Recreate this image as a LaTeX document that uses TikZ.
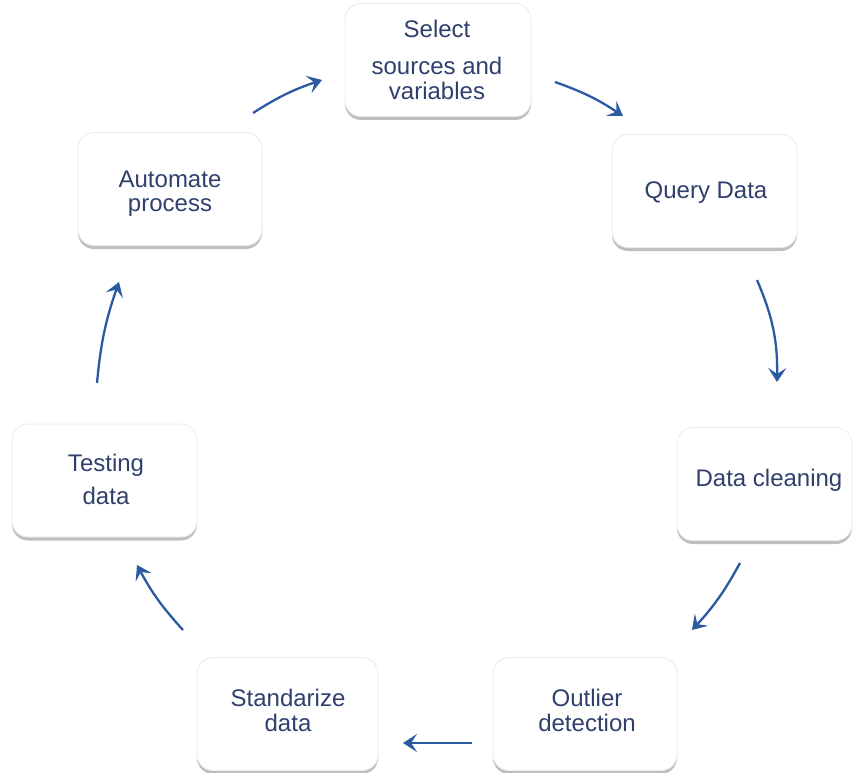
\documentclass[tikz,border=0pt]{standalone}
\usepackage{fontspec}
\setmainfont{Liberation Sans}
\usetikzlibrary{shadows,arrows.meta}
\definecolor{txtc}{RGB}{48,64,108}
\definecolor{arrc}{RGB}{42,90,162}
\tikzset{
  stepbox/.style={rectangle, rounded corners=16pt, fill=white, draw=black!8, line width=0.8pt,
    minimum width=#1, minimum height=113pt, inner sep=0pt,
    drop shadow={shadow xshift=0pt, shadow yshift=-3.5pt, opacity=0.5, fill=black!50}},
  stepbox/.default=185pt,
  lbl/.style={anchor=base, text=txtc, inner sep=0pt, font=\fontsize{24}{26}\selectfont},
  flow/.style={draw=arrc, line width=2.3pt, bend left=7,
    -{Stealth[length=14pt, width=18pt, inset=6pt]}}
}
\begin{document}
\begin{tikzpicture}[x=1pt,y=-1pt]
\useasboundingbox (0,0) rectangle (854,773);
% boxes
\node[stepbox=186pt] (sel) at (438,60) {};
\node[stepbox] (qry) at (704.5,191) {};
\node[stepbox=184pt] (aut) at (170,189) {};
\node[stepbox=175pt] (cln) at (764.5,484) {};
\node[stepbox] (tst) at (104.5,480.5) {};
\node[stepbox=184pt] (out) at (585,714) {};
\node[stepbox=181pt] (std) at (287.5,714) {};
% labels
\node[lbl] (sel1) at (437,38) {Select};
\node[lbl] (sel2) at (437,75) {sources and};
\node[lbl] (sel3) at (437,100) {variables};
\node[lbl] (qry1) at (706,198) {Query Data};
\node[lbl] (aut1) at (170,187) {Automate};
\node[lbl] (aut2) at (170,211) {process};
\node[lbl] (cln1) at (769,486) {Data cleaning};
\node[lbl] (tst1) at (106,471) {Testing};
\node[lbl] (tst2) at (106,504) {data};
\node[lbl] (out1) at (587,706) {Outlier};
\node[lbl] (out2) at (587,731) {detection};
\node[lbl] (std1) at (288,706) {Standarize};
\node[lbl] (std2) at (288,731) {data};
% arrow end points
\coordinate (a1s) at (253,113); \coordinate (a1e) at (322,80);
\coordinate (a2s) at (555,82);  \coordinate (a2e) at (623,116);
\coordinate (a3s) at (757,280); \coordinate (a3e) at (777,382);
\coordinate (a4s) at (740,563); \coordinate (a4e) at (692,630);
\coordinate (a5s) at (472,743); \coordinate (a5e) at (403,743);
\coordinate (a6s) at (183,630); \coordinate (a6e) at (137,565);
\coordinate (a7s) at (97,383);  \coordinate (a7e) at (119,282);
% arrows
\draw[flow] (a1s) to (a1e);
\draw[flow] (a2s) to (a2e);
\draw[flow, bend left=12] (a3s) to (a3e);
\draw[flow] (a4s) to (a4e);
\draw[flow, bend left=0] (a5s) to (a5e);
\draw[flow] (a6s) to (a6e);
\draw[flow] (a7s) to (a7e);
\end{tikzpicture}
\end{document}
